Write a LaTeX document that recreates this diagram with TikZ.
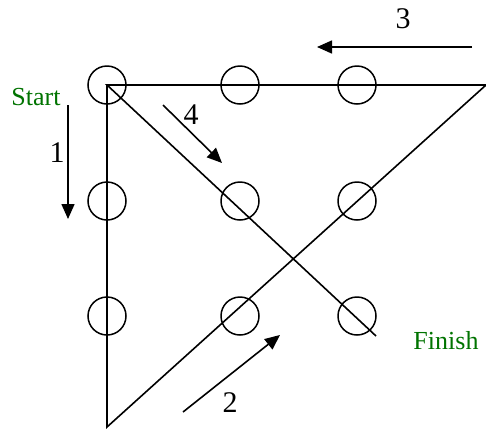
\documentclass[tikz,border=0pt]{standalone}
\usepackage{fontspec}
\setmainfont{Liberation Serif}
\usetikzlibrary{arrows.meta}

\begin{document}
\begin{tikzpicture}[
      x=1pt, y=-1pt,
      dot/.style={circle, draw, line width=1.5pt, minimum size=38pt, inner sep=0pt},
      route/.style={line width=1.6pt},
      arr/.style={-{Triangle[length=15pt, width=13pt]}, line width=1.6pt},
      steplabel/.style={font=\fontsize{30}{30}\selectfont},
      endlabel/.style={font=\fontsize{26}{26}\selectfont, text=green!45!black}
    ]
    \useasboundingbox (0,0) rectangle (486,429);

    % ===== The nine dots =====
    \node[dot] (c11) at (107, 85) {};
    \node[dot] (c12) at (240, 85) {};
    \node[dot] (c13) at (357, 85) {};
    \node[dot] (c21) at (107, 201) {};
    \node[dot] (c22) at (240, 201) {};
    \node[dot] (c23) at (357, 201) {};
    \node[dot] (c31) at (107, 316) {};
    \node[dot] (c32) at (240, 316) {};
    \node[dot] (c33) at (357, 316) {};

    % ===== Corners of the four strokes =====
    \coordinate (bot) at (107, 427);
    \coordinate (rgt) at (486, 85);
    \coordinate (fin) at (376, 336);

    \draw[route] (c11.center) -- (bot) -- (rgt) -- (c11.center) -- (fin);

    % ===== Direction arrows =====
    \coordinate (a1s) at (68, 105);  \coordinate (a1e) at (68, 219);
    \coordinate (a2s) at (183, 412); \coordinate (a2e) at (280, 335);
    \coordinate (a3s) at (472, 47);  \coordinate (a3e) at (317, 47);
    \coordinate (a4s) at (163, 105); \coordinate (a4e) at (222, 163);
    \draw[arr] (a1s) -- (a1e);
    \draw[arr] (a2s) -- (a2e);
    \draw[arr] (a3s) -- (a3e);
    \draw[arr] (a4s) -- (a4e);

    % ===== Labels =====
    \node[steplabel] (l1) at (57, 153) {1};
    \node[steplabel] (l2) at (230, 403) {2};
    \node[steplabel] (l3) at (403, 19) {3};
    \node[steplabel] (l4) at (191, 115) {4};
    \node[endlabel] (st) at (36, 97) {Start};
    \node[endlabel] (fi) at (446, 341) {Finish};
  \end{tikzpicture}
\end{document}
